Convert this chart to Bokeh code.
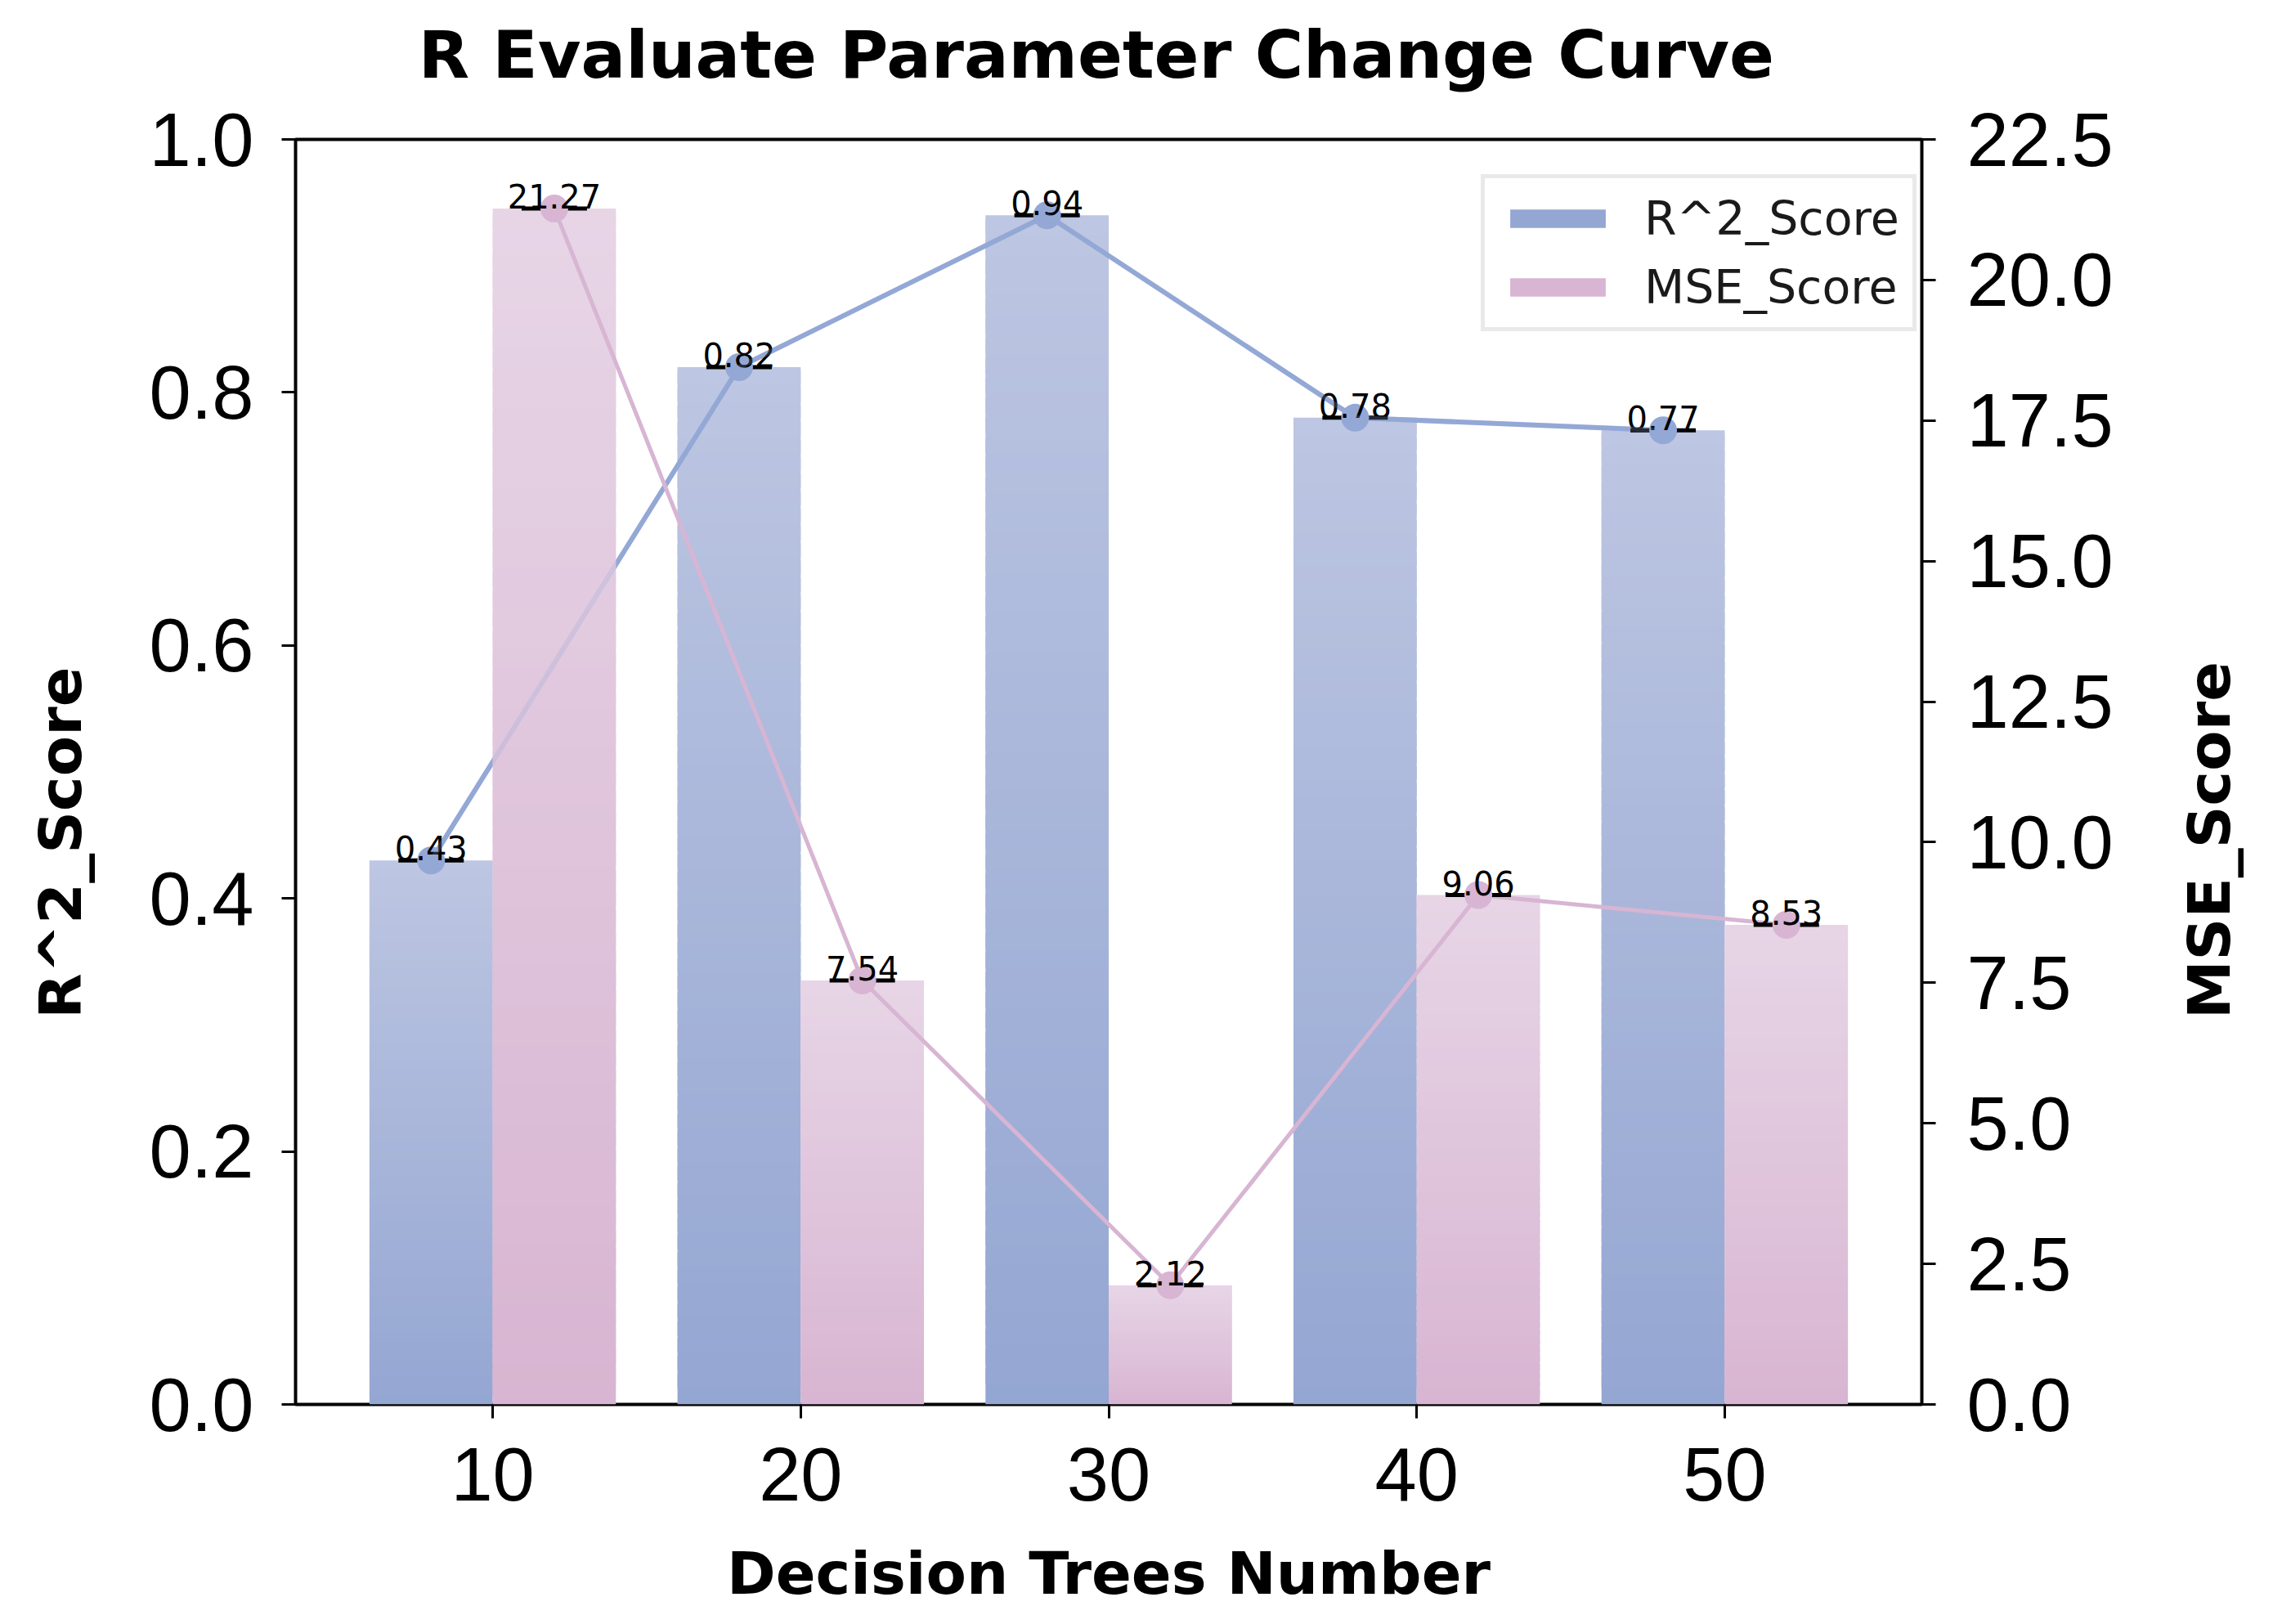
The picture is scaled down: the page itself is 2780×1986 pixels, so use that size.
import math
from bokeh.plotting import figure
from bokeh.layouts import row, column
from bokeh.models import (Range1d, LinearAxis, FixedTicker, PrintfTickFormatter,
                          Legend, LegendItem, ColumnDataSource)
from bokeh.core.properties import value
from bokeh.embed import file_html
from bokeh.resources import INLINE

# ---------------- data ----------------
trees = [10, 20, 30, 40, 50]
r2_scores = [0.43, 0.82, 0.94, 0.78, 0.77]
mse_scores = [21.27, 7.54, 2.12, 9.06, 8.53]
r2_ticks = [0.0, 0.2, 0.4, 0.6, 0.8, 1.0]
mse_ticks = [0.0, 2.5, 5.0, 7.5, 10.0, 12.5, 15.0, 17.5, 20.0, 22.5]
title_text = "R Evaluate Parameter Change Curve"
x_label = "Decision Trees Number"
y_label = "R^2_Score"
y2_label = "MSE_Score"

# ---------------- style / layout ----------------
BLUE_BOTTOM, BLUE_TOP = "#94a6d2", "#bdc6e2"
PINK_BOTTOM, PINK_TOP = "#d8b5d2", "#e7d5e6"
BLUE_LINE, PINK_LINE = "#94a8d6", "#d7b5d3"
BAR_W = 4.0
OFF = 2.0

TOTAL_W, TOTAL_H = 2762, 1968
TOP_H = 115            # strip holding the title
LEFT_W, RIGHT_W = 150, 122   # strips holding the rotated axis titles
MAIN_W = TOTAL_W - LEFT_W - RIGHT_W
MAIN_H = TOTAL_H - TOP_H
B_TOP, B_BOTTOM = 170 - TOP_H, 251


def _rgb(h):
    h = h.lstrip("#")
    return tuple(int(h[i:i + 2], 16) for i in (0, 2, 4))


def _mix(c0, c1, t):
    a, b = _rgb(c0), _rgb(c1)
    return "#%02x%02x%02x" % tuple(int(round(a[i] + (b[i] - a[i]) * t)) for i in range(3))


def gradient_source(xs, vals, offset, c_bottom, c_top, n=60):
    d = dict(left=[], right=[], bottom=[], top=[], color=[])
    for x, v in zip(xs, vals):
        for k in range(n):
            d["left"].append(x + offset - BAR_W / 2)
            d["right"].append(x + offset + BAR_W / 2)
            d["bottom"].append(v * k / n)
            d["top"].append(v * min((k + 1.8) / n, 1.0))
            d["color"].append(_mix(c_bottom, c_top, (k + 0.5) / n))
    return ColumnDataSource(d)


def blank_fig(w, h, y_range, b_top=0, b_bottom=0):
    f = figure(width=w, height=h, output_backend="svg", toolbar_location=None,
               title=None, x_range=Range1d(0, 1), y_range=y_range,
               x_axis_location=None, y_axis_location=None)
    f.min_border_left = 0
    f.min_border_right = 0
    f.min_border_top = b_top
    f.min_border_bottom = b_bottom
    f.grid.visible = False
    f.outline_line_color = None
    return f


# ---------------- main plot ----------------
p = figure(width=MAIN_W, height=MAIN_H, output_backend="svg", toolbar_location=None,
           title=None, x_range=Range1d(3.6, 56.4), y_range=Range1d(0, 1.0))
p.min_border_left = 361 - LEFT_W
p.min_border_right = MAIN_W - (2350 - LEFT_W)
p.min_border_top = B_TOP
p.min_border_bottom = B_BOTTOM
p.extra_y_ranges = {"mse": Range1d(0, 22.5)}
p.grid.visible = False
p.background_fill_color = "white"
p.outline_line_color = "black"
p.outline_line_width = 4


def style_axis(ax, standoff_tick, standoff_label):
    ax.axis_line_color = None
    ax.major_tick_out = 17
    ax.major_tick_in = 0
    ax.major_tick_line_width = 3
    ax.major_tick_line_color = "black"
    ax.minor_tick_line_color = None
    ax.major_label_text_font = "Liberation Sans"
    ax.major_label_text_font_size = "92px"
    ax.major_label_text_color = "black"
    ax.major_label_standoff = standoff_tick
    ax.axis_label_text_font = "DejaVu Sans"
    ax.axis_label_text_font_style = "bold"
    ax.axis_label_text_font_size = "72px"
    ax.axis_label_text_color = "black"
    ax.axis_label_standoff = standoff_label


xa = p.xaxis[0]
xa.ticker = FixedTicker(ticks=trees)
xa.axis_label = x_label
style_axis(xa, 36, 44)

ya = p.yaxis[0]
ya.ticker = FixedTicker(ticks=r2_ticks)
ya.formatter = PrintfTickFormatter(format="%.1f")
style_axis(ya, 34, 60)

ra = LinearAxis(y_range_name="mse", ticker=FixedTicker(ticks=mse_ticks),
                formatter=PrintfTickFormatter(format="%.1f"))
style_axis(ra, 38, 60)
p.add_layout(ra, "right")

# ---------- R^2 (left axis) ----------
blue_src = gradient_source(trees, r2_scores, -OFF, BLUE_BOTTOM, BLUE_TOP)
blue_bars = p.quad(left="left", right="right", bottom="bottom", top="top",
                   fill_color="color", line_color=None, source=blue_src)

bx = [t - OFF for t in trees]
p.line(bx, r2_scores, line_color=BLUE_LINE, line_width=6)
p.scatter(bx, r2_scores, marker="dash", size=80, line_color="black", line_width=5)
p.scatter(bx, r2_scores, marker="circle", size=34, fill_color=BLUE_LINE, line_color=None)
p.text(bx, r2_scores, text=["%.2f" % v for v in r2_scores], text_align="center",
       text_baseline="bottom", text_font=value("DejaVu Sans"), text_font_size="40px",
       text_color="black")

# ---------- MSE (right axis) ----------
pink_src = gradient_source(trees, mse_scores, OFF, PINK_BOTTOM, PINK_TOP)
pink_bars = p.quad(left="left", right="right", bottom="bottom", top="top",
                   fill_color="color", line_color=None, source=pink_src, y_range_name="mse")
# blue line faintly visible through the semi-transparent pink bars
p.line(bx, r2_scores, line_color=BLUE_LINE, line_width=6, line_alpha=0.25)

px = [t + OFF for t in trees]
p.line(px, mse_scores, line_color=PINK_LINE, line_width=5, y_range_name="mse")
p.scatter(px, mse_scores, marker="dash", size=80, line_color="black", line_width=5,
          y_range_name="mse")
p.scatter(px, mse_scores, marker="circle", size=34, fill_color=PINK_LINE, line_color=None,
          y_range_name="mse")
p.text(px, mse_scores, text=["%.2f" % v for v in mse_scores], text_align="center",
       text_baseline="bottom", text_font=value("DejaVu Sans"), text_font_size="40px",
       text_color="black", y_range_name="mse")

# ---------- legend ----------
legend = Legend(items=[LegendItem(label=y_label, renderers=[blue_bars], index=0),
                       LegendItem(label=y2_label, renderers=[pink_bars], index=0)],
                location=(1450, 1312))
legend.label_text_font = "DejaVu Sans"
legend.label_text_font_size = "57px"
legend.label_text_color = "#1a1a1a"
legend.glyph_width = 146
legend.glyph_height = 28
legend.label_standoff = 33
legend.spacing = 18
legend.padding = 16
legend.margin = 0
legend.border_line_color = "#d3d3d3"
legend.border_line_width = 5
legend.background_fill_alpha = 0.85
p.add_layout(legend)

# ---------------- title strip ----------------
top = blank_fig(TOTAL_W, TOP_H, Range1d(0, 1))
top.text([0.4853], [1 - 66 / TOP_H], text=[title_text], text_align="center",
         text_baseline="alphabetic", text_font=value("DejaVu Sans"),
         text_font_style="bold", text_font_size="81px", text_color="black")

# ---------------- rotated axis titles ----------------
left = blank_fig(LEFT_W, MAIN_H, p.y_range, B_TOP, B_BOTTOM)
left.text([73 / LEFT_W], [0.444], text=[y_label], angle=math.pi / 2,
          text_align="center", text_baseline="alphabetic",
          text_font=value("DejaVu Sans"), text_font_style="bold",
          text_font_size="72px", text_color="black")

right = blank_fig(RIGHT_W, MAIN_H, p.y_range, B_TOP, B_BOTTOM)
right.text([(2701 - (TOTAL_W - RIGHT_W)) / RIGHT_W], [0.446], text=[y2_label],
           angle=math.pi / 2, text_align="center", text_baseline="alphabetic",
           text_font=value("DejaVu Sans"), text_font_style="bold",
           text_font_size="72px", text_color="black")

layout = column(top, row(left, p, right, spacing=0), spacing=0)

open("out.html", "w").write(file_html(layout, INLINE))
